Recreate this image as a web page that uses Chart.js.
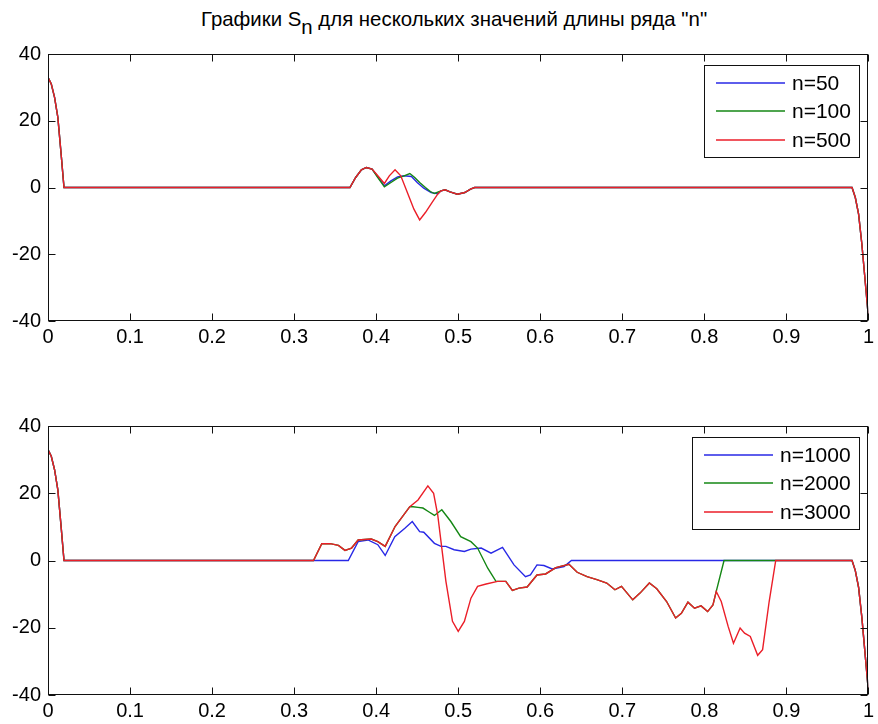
<!DOCTYPE html>
<html>
<head>
<meta charset="utf-8">
<script src="https://cdn.jsdelivr.net/npm/chart.js@4/dist/chart.umd.min.js"></script>
<style>
  html, body { margin: 0; padding: 0; background: #fff; }
  #wrap { position: relative; width: 878px; height: 724px; background: #fff; overflow: hidden; }
  #title { position: absolute; left: 201px; top: 7px; font: 20.4px "Liberation Sans", Arial, sans-serif;
           color: #000; white-space: nowrap; line-height: 24px; }
  #title .sub { position: relative; top: 8px; }
  canvas { position: absolute; left: 0; }
  #c1 { top: 0; }
  #c2 { top: 362px; }
</style>
</head>
<body>
<div id="wrap">
  <div id="title">Графики S<span class="sub">n</span> для нескольких значений длины ряда "n"</div>
  <canvas id="c1" width="878" height="362"></canvas>
  <canvas id="c2" width="878" height="362"></canvas>
</div>
<script>
// Axis ticks
const xTickStep = 0.1;
const yTicks = [-40, -20, 0, 20, 40];

// Every partial sum starts and ends with the same steep edges
const head = [[0, 33], [0.004, 31], [0.008, 27], [0.012, 21], [0.016, 10], [0.0195, 0]];
const tail = [[0.98, 0], [0.984, -3], [0.988, -8], [0.992, -17], [0.996, -28], [1.0, -39]];

// Upper panel: n = 50, 100, 500 (middle part of each curve)
const s50 = [[0.368, 0], [0.375, 3], [0.382, 5.3], [0.388, 6.0], [0.395, 5.5], [0.402, 3.2], [0.410, 0.5],
  [0.418, 2.0], [0.426, 3.2], [0.434, 3.5], [0.443, 3.3], [0.450, 1.5], [0.458, -0.2], [0.467, -1.5],
  [0.475, -1.9], [0.479, -1.0], [0.484, -0.7], [0.490, -1.3], [0.499, -2.0], [0.508, -1.5], [0.515, -0.5], [0.520, 0]];
const s100 = [[0.368, 0], [0.375, 3], [0.382, 5.3], [0.388, 6.0], [0.395, 5.5], [0.402, 3.0], [0.410, 0.2],
  [0.418, 1.5], [0.426, 2.8], [0.434, 3.5], [0.441, 4.2], [0.447, 3.0], [0.453, 1.5], [0.460, 0], [0.466, -1.2],
  [0.471, -1.8], [0.479, -1.0], [0.484, -0.7], [0.490, -1.3], [0.499, -2.0], [0.508, -1.5], [0.515, -0.5], [0.520, 0]];
const s500 = [[0.368, 0], [0.375, 3], [0.382, 5.3], [0.388, 6.0], [0.395, 5.5], [0.402, 3.5], [0.410, 1.2],
  [0.416, 3.5], [0.423, 5.3], [0.430, 3.5], [0.438, -1.5], [0.446, -6.5], [0.453, -9.7], [0.460, -7.5],
  [0.468, -4.5], [0.475, -2.0], [0.479, -1.0], [0.484, -0.7], [0.490, -1.3], [0.499, -2.0], [0.508, -1.5],
  [0.515, -0.5], [0.520, 0]];

// Lower panel: n = 1000, 2000, 3000 (middle part of each curve)
const s1000 = [[0.366, 0], [0.378, 5.6], [0.390, 6.1], [0.402, 4.7], [0.411, 1.5], [0.4227, 7.1], [0.435, 9.6],
  [0.444, 11.6], [0.453, 8.6], [0.458, 8.4], [0.471, 5.1], [0.479, 4.2], [0.485, 4.2], [0.495, 3.2],
  [0.5075, 2.7], [0.5155, 3.4], [0.528, 3.7], [0.540, 2.2], [0.554, 3.9], [0.568, -1.3], [0.582, -4.8],
  [0.588, -4.3], [0.596, -1.3], [0.6045, -1.5], [0.6145, -2.5], [0.629, -1.8], [0.638, 0]];
const s2000 = [[0.3236, 0], [0.3337, 5.0], [0.344, 5.0], [0.354, 4.5], [0.362, 3.0], [0.370, 3.7], [0.378, 6.1],
  [0.394, 6.4], [0.402, 5.6], [0.411, 4.2], [0.423, 10.1], [0.441, 16.0], [0.445, 16.0], [0.451, 15.8],
  [0.457, 15.6], [0.464, 14.5], [0.471, 13.4], [0.480, 15.1], [0.491, 11.6], [0.503, 7.1], [0.5155, 5.6],
  [0.5236, 3.7], [0.536, -2.3], [0.546, -6.2], [0.558, -6.2], [0.566, -8.9], [0.574, -8.2], [0.584, -7.9],
  [0.596, -4.3], [0.6065, -4.0], [0.619, -2.1], [0.635, -1.1], [0.645, -3.5], [0.657, -4.8], [0.669, -5.7],
  [0.681, -6.7], [0.691, -8.7], [0.699, -7.7], [0.7127, -11.7], [0.7216, -9.7], [0.733, -6.7], [0.742, -8.4],
  [0.754, -12.2], [0.765, -17.1], [0.772, -15.7], [0.780, -12.4], [0.788, -14.2], [0.796, -13.5],
  [0.804, -15.2], [0.8105, -13.2], [0.8145, -9.2], [0.824, 0]];
const s3000 = [[0.3236, 0], [0.3337, 5.0], [0.344, 5.0], [0.354, 4.5], [0.362, 3.0], [0.370, 3.7], [0.378, 6.1],
  [0.394, 6.4], [0.402, 5.6], [0.411, 4.2], [0.423, 10.1], [0.441, 16.0], [0.451, 18.0], [0.463, 22.2],
  [0.470, 20.0], [0.475, 13.6], [0.480, 3.7], [0.485, -6.2], [0.493, -18.1], [0.500, -21.1], [0.5075, -18.1],
  [0.5155, -11.2], [0.5236, -7.7], [0.534, -7.0], [0.548, -6.2], [0.558, -6.2], [0.566, -8.9], [0.574, -8.2],
  [0.584, -7.9], [0.596, -4.3], [0.6065, -4.0], [0.619, -2.1], [0.635, -1.1], [0.645, -3.5], [0.657, -4.8],
  [0.669, -5.7], [0.681, -6.7], [0.691, -8.7], [0.699, -7.7], [0.7127, -11.7], [0.7216, -9.7], [0.733, -6.7],
  [0.742, -8.4], [0.754, -12.2], [0.765, -17.1], [0.772, -15.7], [0.780, -12.4], [0.788, -14.2],
  [0.796, -13.5], [0.804, -15.2], [0.8105, -13.2], [0.8145, -9.2], [0.8206, -12.2], [0.829, -19.6],
  [0.8355, -24.6], [0.8436, -20.1], [0.849, -21.6], [0.856, -22.6], [0.865, -28.2], [0.871, -26.5],
  [0.879, -12.2], [0.887, 0]];

const topLabels = ['n=50', 'n=100', 'n=500'];
const bottomLabels = ['n=1000', 'n=2000', 'n=3000'];
const colors = ['rgb(40,40,230)', 'rgb(20,135,20)', 'rgb(235,30,40)'];

const FONT = '"Liberation Sans", Arial, sans-serif';
const toPoints = mid => head.concat(mid, tail).map(([x, y]) => ({ x, y }));

// Box with inward tick marks on all four sides
const framePlugin = {
  id: 'frame',
  afterDraw(chart) {
    const { ctx, chartArea: a, scales: { x, y } } = chart;
    const L = Math.round(a.left) + 0.5, R = Math.round(a.right) - 0.5;
    const T = Math.round(a.top) + 0.5, B = Math.round(a.bottom) - 0.5;
    const tl = 7;
    ctx.save();
    ctx.strokeStyle = '#111';
    ctx.lineWidth = 1;
    ctx.strokeRect(L, T, R - L, B - T);
    ctx.beginPath();
    x.ticks.forEach(t => {
      const px = Math.round(x.getPixelForValue(t.value)) + 0.5;
      ctx.moveTo(px, B); ctx.lineTo(px, B - tl);
      ctx.moveTo(px, T); ctx.lineTo(px, T + tl);
    });
    y.ticks.forEach(t => {
      const py = Math.round(y.getPixelForValue(t.value)) + 0.5;
      ctx.moveTo(L, py); ctx.lineTo(L + tl, py);
      ctx.moveTo(R, py); ctx.lineTo(R - tl, py);
    });
    ctx.stroke();
    ctx.restore();
  }
};

// Boxed legend in the upper-right corner of the plot area
const boxLegendPlugin = {
  id: 'boxLegend',
  afterDraw(chart) {
    const { ctx, chartArea: a } = chart;
    const sets = chart.data.datasets;
    ctx.save();
    ctx.font = '21px ' + FONT;
    const textW = Math.max(...sets.map(d => ctx.measureText(d.label).width));
    const padL = 12, lineLen = 69, gap = 7, padR = 9, rowH = 28.5, padT = 17.5;
    const w = Math.round(padL + lineLen + gap + textW + padR);
    const h = 93;
    const right = Math.round(a.right) - 8, top = Math.round(a.top) + 11;
    const left = right - w;
    ctx.fillStyle = '#fff';
    ctx.fillRect(left, top, w, h);
    ctx.strokeStyle = '#111';
    ctx.lineWidth = 1;
    ctx.strokeRect(left + 0.5, top + 0.5, w - 1, h - 1);
    sets.forEach((d, i) => {
      const yy = Math.round(top + padT + i * rowH);
      ctx.strokeStyle = d.borderColor;
      ctx.lineWidth = 1.6;
      ctx.beginPath();
      ctx.moveTo(left + padL, yy);
      ctx.lineTo(left + padL + lineLen, yy);
      ctx.stroke();
      ctx.fillStyle = '#000';
      ctx.textBaseline = 'middle';
      ctx.textAlign = 'left';
      ctx.fillText(d.label, left + padL + lineLen + gap, yy + 1);
    });
    ctx.restore();
  }
};

function makeChart(id, labels, mids, padTop, xHeight) {
  return new Chart(document.getElementById(id), {
    type: 'line',
    data: {
      datasets: mids.map((m, i) => ({
        label: labels[i],
        data: toPoints(m),
        borderColor: colors[i],
        borderWidth: 1.4,
        pointRadius: 0,
        fill: false,
        tension: 0,
        order: mids.length - i   // later series drawn on top
      }))
    },
    options: {
      responsive: false,
      animation: false,
      devicePixelRatio: 1,
      layout: { padding: { top: padTop, right: 5, bottom: 0, left: 0 } },
      plugins: { legend: { display: false }, tooltip: { enabled: false }, title: { display: false } },
      scales: {
        x: {
          type: 'linear', min: 0, max: 1,
          grid: { display: false, drawTicks: false },
          border: { display: false },
          afterFit: s => { s.height = xHeight; },
          ticks: {
            stepSize: xTickStep, autoSkip: false, maxRotation: 0, padding: 4, color: '#000',
            font: { family: FONT, size: 20 },
            callback: v => String(Math.round(v * 10) / 10)
          }
        },
        y: {
          min: yTicks[0], max: yTicks[yTicks.length - 1],
          grid: { display: false, drawTicks: false },
          border: { display: false },
          afterFit: s => { s.width = 48; },
          afterBuildTicks: s => { s.ticks = yTicks.map(v => ({ value: v })); },
          ticks: {
            padding: 7, color: '#000',
            font: { family: FONT, size: 20 },
            callback: v => String(v)
          }
        }
      }
    },
    plugins: [framePlugin, boxLegendPlugin]
  });
}

makeChart('c1', topLabels, [s50, s100, s500], 54, 41);
makeChart('c2', bottomLabels, [s1000, s2000, s3000], 64, 29);
</script>
</body>
</html>
